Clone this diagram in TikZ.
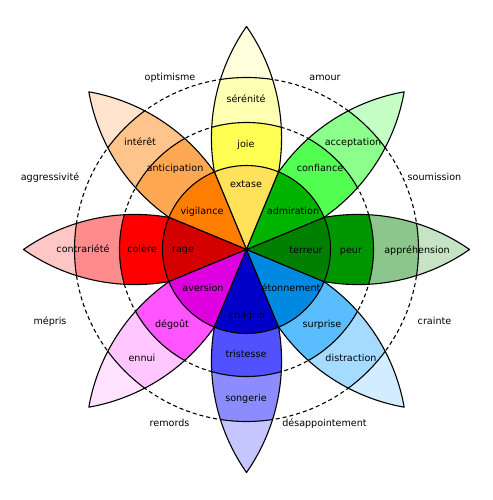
\documentclass[tikz,border=0pt]{standalone}
\usepackage{fontspec}
\setmainfont{DejaVu Sans}
\begin{document}
\begin{tikzpicture}[x=1pt,y=1pt,
  outl/.style={draw=black,line width=1.1pt,line join=round},
  dashring/.style={draw=black,line width=1.1pt,dash pattern=on 4pt off 3pt},
  lbl/.style={inner sep=0pt,text height=7pt,text depth=2pt,font=\fontsize{9.6}{11}\selectfont,text=black}]
\useasboundingbox (-246.5,-250.5) rectangle (245.5,249.5);
\definecolor{cTa}{HTML}{FFFFDC}\definecolor{cTb}{HTML}{FFFFB1}\definecolor{cTc}{HTML}{FFFF54}\definecolor{cTh}{HTML}{FFE15A}
\definecolor{cOa}{HTML}{FFE3CC}\definecolor{cOb}{HTML}{FFC48C}\definecolor{cOc}{HTML}{FFA854}\definecolor{cOh}{HTML}{FF7D00}
\definecolor{cRa}{HTML}{FFC6C6}\definecolor{cRb}{HTML}{FF8C8C}\definecolor{cRc}{HTML}{FF0000}\definecolor{cRh}{HTML}{D40000}
\definecolor{cPa}{HTML}{FFE2FF}\definecolor{cPb}{HTML}{FFC6FF}\definecolor{cPc}{HTML}{FF54FF}\definecolor{cPh}{HTML}{DE00DE}
\definecolor{cBa}{HTML}{C6C6FF}\definecolor{cBb}{HTML}{8C8CFF}\definecolor{cBc}{HTML}{5151FF}\definecolor{cBh}{HTML}{0000C8}
\definecolor{cSa}{HTML}{D2EDFF}\definecolor{cSb}{HTML}{A5DBFF}\definecolor{cSc}{HTML}{59BDFF}\definecolor{cSh}{HTML}{0089E0}
\definecolor{cDa}{HTML}{C6E3C6}\definecolor{cDb}{HTML}{8CC68C}\definecolor{cDc}{HTML}{009600}\definecolor{cDh}{HTML}{008000}
\definecolor{cGa}{HTML}{C6FFC6}\definecolor{cGb}{HTML}{8CFF8C}\definecolor{cGc}{HTML}{54FF54}\definecolor{cGh}{HTML}{00B400}
\def\petalpath{(0,0) arc[start angle=124.92,end angle=55.08,radius=194.8] arc[start angle=-55.08,end angle=-124.92,radius=194.8] -- cycle}
% dashed rings
\draw[dashring] (0,0) circle (127);
\draw[dashring] (0,0) circle (172);
% petals
\foreach \a/\ta/\tb/\tc in {90/cTa/cTb/cTc,135/cOa/cOb/cOc,180/cRa/cRb/cRc,225/cPa/cPb/cPc,270/cBa/cBb/cBc,315/cSa/cSb/cSc,0/cDa/cDb/cDc,45/cGa/cGb/cGc}{
  \begin{scope}[rotate=\a]
    \begin{scope}
      \clip \petalpath;
      \fill[\ta] (0,0) circle (230);
      \fill[\tb] (0,0) circle (172);
      \fill[\tc] (0,0) circle (127);
      \draw[outl] (0,0) circle (172);
      \draw[outl] (0,0) circle (127);
    \end{scope}
    \draw[outl] \petalpath;
  \end{scope}
}
% hub sectors
\foreach \a/\h in {90/cTh,135/cOh,180/cRh,225/cPh,270/cBh,315/cSh,0/cDh,45/cGh}{
  \filldraw[outl,fill=\h] (0,0) -- (\a-22.5:84) arc[start angle=\a-22.5,end angle=\a+22.5,radius=84] -- cycle;
}
% labels
\node[lbl] (extase) at (-0.5,64.5) {extase};
\node[lbl] (joie) at (-0.5,104.5) {joie};
\node[lbl] (serenite) at (-0.5,149.5) {sérénité};
\node[lbl] (vigilance) at (-44.5,37.5) {vigilance};
\node[lbl] (anticipation) at (-71.5,80.5) {anticipation};
\node[lbl] (interet) at (-106.5,106.5) {intérêt};
\node[lbl] (rage) at (-63.5,-0.5) {rage};
\node[lbl] (colere) at (-104.5,-0.5) {colère};
\node[lbl] (contrariete) at (-163.5,-0.5) {contrariété};
\node[lbl] (aversion) at (-43.5,-39.5) {aversion};
\node[lbl] (degout) at (-74.5,-75.5) {dégoût};
\node[lbl] (ennui) at (-104.5,-109.5) {ennui};
\node[lbl] (chagrin) at (0.5,-66.5) {chagrin};
\node[lbl] (tristesse) at (-0.5,-105.5) {tristesse};
\node[lbl] (songerie) at (-0.5,-149.5) {songerie};
\node[lbl] (etonnement) at (44.5,-39.5) {étonnement};
\node[lbl] (surprise) at (75.5,-75.5) {surprise};
\node[lbl] (distraction) at (104.5,-109.5) {distraction};
\node[lbl] (terreur) at (59.5,-1.5) {terreur};
\node[lbl] (peur) at (104.5,-1.5) {peur};
\node[lbl] (apprehension) at (170.5,-1.5) {appréhension};
\node[lbl] (admiration) at (46.5,37.5) {admiration};
\node[lbl] (confiance) at (73.5,80.5) {confiance};
\node[lbl] (acceptation) at (106.5,106.5) {acceptation};
% dyads
\node[lbl] (optimisme) at (-76.5,171.5) {optimisme};
\node[lbl] (amour) at (78.5,171.5) {amour};
\node[lbl] (aggressivite) at (-196.5,71.5) {aggressivité};
\node[lbl] (soumission) at (188,71.5) {soumission};
\node[lbl] (mepris) at (-196.5,-72.5) {mépris};
\node[lbl] (crainte) at (188,-72.5) {crainte};
\node[lbl] (remords) at (-77,-174.5) {remords};
\node[lbl] (desappointement) at (78,-174.5) {désappointement};
\end{tikzpicture}
\end{document}
